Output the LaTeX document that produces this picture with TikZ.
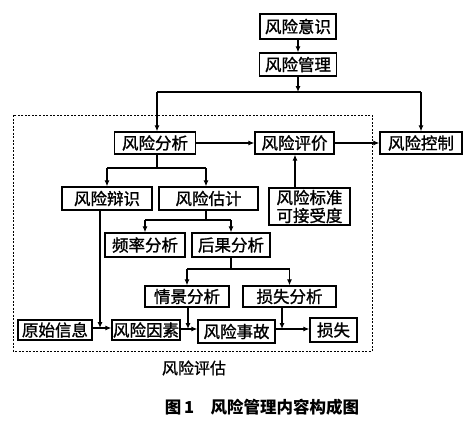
\documentclass[tikz,border=0pt]{standalone}
\usepackage{fontspec}
\usepackage{tikz}
\usetikzlibrary{arrows.meta}
\newfontfamily\cjk{Noto Sans CJK SC}
\newfontfamily\cjkfat[FakeBold=1.2]{Noto Sans CJK SC}
\tikzset{
	box/.style={draw, line width=1.3pt, inner sep=0pt, font=\cjkfat\fontsize{16.5}{18}\selectfont, align=center},
	arr/.style={line width=1.1pt, -{Latex[length=6pt,width=5pt]}},
	ln/.style={line width=1.1pt}
}

\begin{document}
\begin{tikzpicture}[x=1pt,y=-1pt]
			\useasboundingbox (0,0) rectangle (469,424);
			% dashed frame round the assessment part
			\draw[line width=0.7pt, dash pattern=on 2pt off 1.5pt] (13,115) rectangle (372,351);
			% boxes
			\node[box, minimum width=76, minimum height=25] (yishi) at (298,26.5) {风险意识};
			\node[box, minimum width=77, minimum height=23] (guanli) at (298,64.5) {风险管理};
			\node[box, minimum width=81, minimum height=22] (fenxi) at (155,143) {风险分析};
			\node[box, minimum width=79, minimum height=22] (pingjia) at (294.5,143) {风险评价};
			\node[box, minimum width=82, minimum height=22] (kongzhi) at (421,143) {风险控制};
			\node[box, minimum width=90, minimum height=23] (bianshi) at (107,198.5) {风险辩识};
			\node[box, minimum width=99, minimum height=23] (guji) at (208.5,198.5) {风险估计};
			\node[box, minimum width=81, minimum height=37] (biaozhun) at (309.5,206.5) {风险标准\\可接受度};
			\node[box, minimum width=80, minimum height=24] (pinlv) at (145,245) {频率分析};
			\node[box, minimum width=78, minimum height=24] (houguo) at (231,245) {后果分析};
			\node[box, minimum width=84, minimum height=21] (qingjing) at (187,296.5) {情景分析};
			\node[box, minimum width=93, minimum height=21] (sunshifx) at (289.5,296.5) {损失分析};
			\node[box, minimum width=74, minimum height=20] (yuanshi) at (55,330) {原始信息};
			\node[box, minimum width=68, minimum height=20] (yinsu) at (146,330) {风险因素};
			\node[box, minimum width=77, minimum height=23] (shigu) at (236.5,331.5) {风险事故};
			\node[box, minimum width=47, minimum height=24] (sunshi) at (333.5,330) {损失};
			% branch points
			\coordinate (t1) at (298,92);
			\coordinate (t1l) at (157,92);
			\coordinate (t1r) at (421,92);
			\coordinate (t2) at (157,168);
			\coordinate (t2l) at (107,168);
			\coordinate (t2r) at (206,168);
			\coordinate (t3) at (206,220);
			\coordinate (t3l) at (145,220);
			\coordinate (t3r) at (231,220);
			\coordinate (t4) at (231,269);
			\coordinate (t4l) at (187,269);
			\coordinate (t4r) at (289.5,269);
			\coordinate (j1) at (100,328);
			\coordinate (j2) at (188,329);
			\coordinate (j3) at (282,329);
			% connectors
			\draw[arr] (yishi) -- (guanli);
			\draw[arr] (guanli) -- (t1);
			\draw[ln] (t1l) -- (t1r);
			\draw[arr] (t1l) -- (t1l |- fenxi.north);
			\draw[arr] (t1r) -- (kongzhi);
			\draw[arr] (fenxi) -- (pingjia);
			\draw[arr] (pingjia) -- (kongzhi);
			\draw[arr] (biaozhun.north -| 295,0) -- (pingjia.south -| 295,0);
			\draw[ln] (fenxi.south -| t2) -- (t2);
			\draw[ln] (t2l) -- (t2r);
			\draw[arr] (t2l) -- (bianshi);
			\draw[arr] (t2r) -- (t2r |- guji.north);
			\draw[ln] (guji.south -| t3) -- (t3);
			\draw[ln] (t3l) -- (t3r);
			\draw[arr] (t3l) -- (pinlv);
			\draw[arr] (t3r) -- (houguo);
			\draw[ln] (houguo) -- (t4);
			\draw[ln] (t4l) -- (t4r);
			\draw[arr] (t4l) -- (qingjing);
			\draw[arr] (t4r) -- (sunshifx);
			\draw[arr] (bianshi.south -| j1) -- (j1);
			\draw[arr] (qingjing.south -| j2) -- (j2);
			\draw[arr] (sunshifx.south -| j3) -- (j3);
			\draw[arr] (yuanshi.east |- j1) -- (yinsu.west |- j1);
			\draw[arr] (yinsu.east |- j2) -- (shigu.west |- j2);
			\draw[arr] (shigu.east |- j3) -- (sunshi.west |- j3);
			% captions
			\node[font=\cjkfat\fontsize{16}{18}\selectfont] (pinggu) at (194,368) {风险评估};
			\node[font=\cjk\bfseries\fontsize{16.5}{18}\selectfont] (title) at (262,407) {图\,1\quad 风险管理内容构成图};
		\end{tikzpicture}
\end{document}
